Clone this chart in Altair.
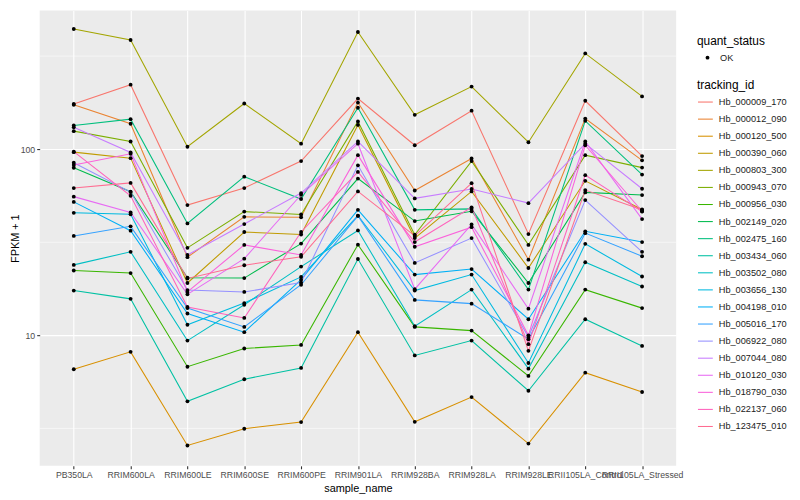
import altair as alt
import pandas as pd

samples = ["PB350LA", "RRIM600LA", "RRIM600LE", "RRIM600SE", "RRIM600PE",
           "RRIM901LA", "RRIM928BA", "RRIM928LA", "RRIM928LE",
           "RRII105LA_Control", "RRII105LA_Stressed"]

tracking_ids = ["Hb_000009_170", "Hb_000012_090", "Hb_000120_500", "Hb_000390_060",
                "Hb_000803_300", "Hb_000943_070", "Hb_000956_030", "Hb_002149_020",
                "Hb_002475_160", "Hb_003434_060", "Hb_003502_080", "Hb_003656_130",
                "Hb_004198_010", "Hb_005016_170", "Hb_006922_080", "Hb_007044_080",
                "Hb_010120_030", "Hb_018790_030", "Hb_022137_060", "Hb_123475_010"]

hue_colors = ["#F8766D", "#EA8331", "#D89000", "#C09B00", "#A3A500", "#7CAE00",
              "#39B600", "#00BB4E", "#00BF7D", "#00C1A3", "#00BFC4", "#00BAE0",
              "#00B0F6", "#35A2FF", "#9590FF", "#C77CFF", "#E76BF3", "#FA62DB",
              "#FF62BC", "#FF6C91"]

# FPKM + 1 per sample (same order as samples)
hb_000009_170 = [175, 222, 50.1, 61.8, 86.3, 187, 105, 161, 35.0, 182, 91.8]
hb_000012_090 = [173, 137, 26.3, 43.3, 43.1, 178, 60.0, 89.2, 25.5, 146, 87.1]
hb_000120_500 = [6.57, 8.15, 2.56, 3.15, 3.42, 10.4, 3.43, 4.66, 2.62, 6.30, 4.96]
hb_000390_060 = [96.4, 89.5, 19.1, 35.9, 34.8, 135, 33.3, 59.3, 23.0, 67.6, 47.4]
hb_000803_300 = [442, 386, 103, 176, 107, 426, 153, 217, 109, 327, 192]
hb_000943_070 = [125, 110, 29.5, 46.2, 44.6, 141, 34.7, 86.3, 30.6, 92.9, 79.6]
hb_000956_030 = [22.3, 21.6, 6.78, 8.50, 8.88, 30.7, 11.1, 10.6, 6.05, 17.6, 14.0]
hb_002149_020 = [79.5, 59.1, 20.4, 20.3, 31.1, 69.5, 41.1, 46.4, 19.1, 58.6, 56.7]
hb_002475_160 = [134, 145, 39.9, 71.2, 54.0, 167, 47.2, 47.8, 17.6, 142, 73.0]
hb_003434_060 = [17.4, 15.7, 4.42, 5.81, 6.68, 25.7, 7.80, 9.37, 5.04, 12.2, 8.77]
hb_003502_080 = [23.9, 28.1, 9.37, 14.6, 23.4, 36.6, 11.2, 17.6, 6.62, 24.7, 18.3]
hb_003656_130 = [45.5, 44.7, 11.4, 14.9, 20.6, 44.0, 17.4, 21.2, 7.10, 31.0, 20.7]
hb_004198_010 = [52.1, 36.5, 13.1, 10.4, 19.9, 47.2, 21.2, 22.7, 12.2, 36.2, 31.7]
hb_005016_170 = [34.2, 38.5, 14.0, 11.1, 18.7, 43.8, 15.5, 14.8, 9.52, 35.4, 26.6]
hb_006922_080 = [84.6, 58.8, 17.5, 17.1, 19.2, 81.9, 24.5, 33.3, 9.79, 53.3, 28.1]
hb_007044_080 = [131, 96.0, 27.0, 39.6, 58.1, 110, 54.4, 61.1, 51.3, 107, 61.3]
hb_010120_030 = [55.6, 45.7, 16.6, 25.8, 56.9, 107, 17.7, 39.4, 13.9, 110, 42.1]
hb_018790_030 = [82.2, 94.4, 17.1, 30.6, 27.0, 92.9, 29.9, 38.1, 10.0, 105, 46.4]
hb_022137_060 = [97.0, 56.2, 14.2, 12.4, 35.9, 75.5, 31.7, 48.7, 8.96, 72.5, 46.2]
hb_123475_010 = [61.8, 65.9, 20.2, 23.8, 26.4, 59.3, 34.2, 65.7, 8.25, 60.3, 47.2]

series_values = [hb_000009_170, hb_000012_090, hb_000120_500, hb_000390_060,
                 hb_000803_300, hb_000943_070, hb_000956_030, hb_002149_020,
                 hb_002475_160, hb_003434_060, hb_003502_080, hb_003656_130,
                 hb_004198_010, hb_005016_170, hb_006922_080, hb_007044_080,
                 hb_010120_030, hb_018790_030, hb_022137_060, hb_123475_010]

y_major = [10, 100]
y_minor = [3.1623, 31.623, 316.23]
y_domain = [1.99, 556]

rows = []
for tid, vals in zip(tracking_ids, series_values):
    for s, v in zip(samples, vals):
        rows.append({"tracking_id": tid, "sample_name": s, "fpkm": v, "quant_status": "OK"})
df = pd.DataFrame(rows)
minor_df = pd.DataFrame({"fpkm": y_minor})

FONT = "Liberation Sans"
yscale = alt.Scale(type="log", domain=y_domain, nice=False, zero=False)
yaxis = alt.Axis(values=y_major, format="d", title="FPKM + 1", grid=True,
                 gridColor="white", gridWidth=1.1, domain=False,
                 tickColor="#333333", tickSize=3, tickWidth=1.1,
                 labelColor="#4D4D4D", labelFontSize=8.8, labelPadding=2,
                 titleFontSize=11, titleFontWeight="normal", titleColor="black",
                 titlePadding=0)
xscale = alt.Scale(type="point", padding=0.6, domain=samples)
xaxis = alt.Axis(labelAngle=0, grid=True, gridColor="white", gridWidth=1.1,
                 domain=False, tickColor="#333333", tickSize=3, tickWidth=1.1,
                 labelColor="#4D4D4D", labelFontSize=8.8, labelPadding=2,
                 title="sample_name", titleFontSize=11, titleFontWeight="normal",
                 titleColor="black", titlePadding=3)

X = alt.X("sample_name:N", scale=xscale, axis=xaxis, sort=samples)
Y = alt.Y("fpkm:Q", scale=yscale, axis=yaxis)

minor = alt.Chart(minor_df).mark_rule(color="white", strokeWidth=0.55).encode(
    y=Y
)

lines = alt.Chart(df).mark_line(strokeWidth=1.07).encode(
    x=X, y=Y,
    color=alt.Color("tracking_id:N",
                    scale=alt.Scale(domain=tracking_ids, range=hue_colors),
                    legend=alt.Legend(title="tracking_id", orient="none",
                                      legendX=664, legendY=70,
                                      symbolType="stroke", symbolSize=225,
                                      symbolStrokeWidth=1.07,
                                      labelFontSize=9.3, labelColor="#1A1A1A",
                                      titleFontSize=12, titleFontWeight="normal",
                                      titleColor="black", rowPadding=3.25,
                                      labelOffset=5, titlePadding=2)),
)

points = alt.Chart(df).mark_point(filled=True, opacity=1, size=15, color="black").encode(
    x=X, y=Y,
    shape=alt.Shape("quant_status:N", scale=alt.Scale(range=["circle"]),
                    legend=alt.Legend(title="quant_status", orient="none",
                                      legendX=664, legendY=26,
                                      symbolSize=15, symbolFillColor="black",
                                      symbolStrokeColor="black",
                                      symbolOffset=6,
                                      labelFontSize=9.3, labelColor="#1A1A1A",
                                      titleFontSize=12, titleFontWeight="normal",
                                      titleColor="black", labelOffset=8,
                                      titlePadding=5)),
)

chart = alt.layer(minor, lines, points).properties(
    width=643, height=460,
    autosize=alt.AutoSizeParams(type="none"),
    padding={"left": 32, "top": 0, "right": 117, "bottom": 32},
).configure(font=FONT).configure_view(fill="#EBEBEB", strokeWidth=0)

chart.save("out.html", embed_options={"renderer": "svg", "actions": False})
